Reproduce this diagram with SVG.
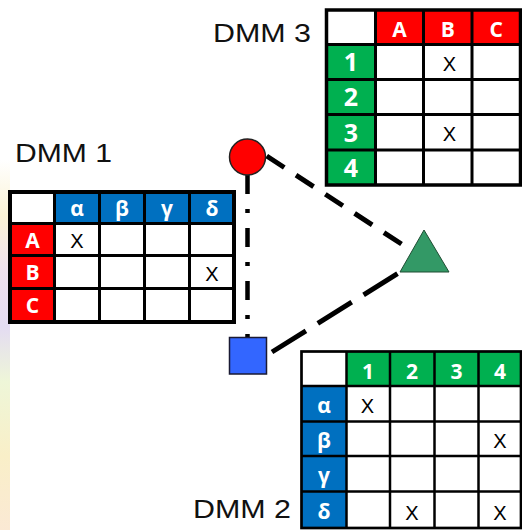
<svg xmlns="http://www.w3.org/2000/svg" width="522" height="530" viewBox="0 0 522 530">
  <defs>
    <linearGradient id="bgstrip" x1="0" y1="0" x2="0" y2="1">
      <stop offset="0" stop-color="#ffffff"/>
      <stop offset="0.15" stop-color="#fbf3d6"/>
      <stop offset="0.3" stop-color="#efe2ee"/>
      <stop offset="0.45" stop-color="#e4dcf2"/>
      <stop offset="0.6" stop-color="#eef6d8"/>
      <stop offset="0.8" stop-color="#f9efc8"/>
      <stop offset="1" stop-color="#fbe9d4"/>
    </linearGradient>
    <style>
      .lbl { font-family: "Liberation Sans", Arial, sans-serif; font-size: 25px; fill: #111; }
      .hd { font-family: "Open Sans", "Noto Sans", sans-serif; font-weight: bold; font-size: 21px; fill: #fff; text-anchor: middle; }
      .hdl { font-family: "Open Sans", "Noto Sans", sans-serif; font-weight: bold; font-size: 25px; fill: #fff; text-anchor: middle; }
      .x { font-family: "Liberation Sans", Arial, sans-serif; font-size: 20px; fill: #000; text-anchor: middle; }
      .red { fill: #ff0000; }
      .blue { fill: #0070c0; }
      .green { fill: #00b050; }
      .grid { stroke: #000; fill: none; }
      .conn { fill: none; stroke: #000; stroke-linecap: butt; }
    </style>
  </defs>
  <rect width="522" height="530" fill="#fff"/>
  <rect x="0" y="160" width="10" height="370" fill="url(#bgstrip)"/>

  <!-- DMM 1 -->
  <g id="dmm1">
    <text class="lbl" x="15" y="162" textLength="97" lengthAdjust="spacingAndGlyphs">DMM 1</text>
    <rect x="10" y="192" width="224" height="130" fill="#fff"/>
    <rect class="blue" x="54.5" y="192" width="179.5" height="31.5"/>
    <rect class="red" x="10" y="223.5" width="44.5" height="98.5"/>
    <g class="grid" stroke-width="3">
      <line x1="54.5" y1="192" x2="54.5" y2="322"/>
      <line x1="99.5" y1="192" x2="99.5" y2="322"/>
      <line x1="144.5" y1="192" x2="144.5" y2="322"/>
      <line x1="189.5" y1="192" x2="189.5" y2="322"/>
      <line x1="10" y1="223.5" x2="234" y2="223.5"/>
      <line x1="10" y1="255.5" x2="234" y2="255.5"/>
      <line x1="10" y1="288.5" x2="234" y2="288.5"/>
    </g>
    <rect class="grid" x="10" y="192" width="224" height="130" stroke-width="4"/>
    <text class="hd" x="77" y="216">α</text>
    <text class="hd" x="122" y="216">β</text>
    <text class="hd" x="167" y="216">γ</text>
    <text class="hd" x="212" y="216">δ</text>
    <text class="hd" x="32.5" y="247.5">A</text>
    <text class="hd" x="32.5" y="280">B</text>
    <text class="hd" x="32.5" y="313">C</text>
    <text class="x" x="77" y="247.5">X</text>
    <text class="x" x="212" y="280.5">X</text>
  </g>

  <!-- DMM 3 -->
  <g id="dmm3">
    <text class="lbl" x="213" y="41.7" textLength="98" lengthAdjust="spacingAndGlyphs">DMM 3</text>
    <rect x="326.5" y="10" width="194" height="175" fill="#fff"/>
    <rect class="red" x="375.5" y="10" width="145" height="34.5"/>
    <rect class="green" x="326.5" y="44.5" width="49" height="140.5"/>
    <g class="grid" stroke-width="3">
      <line x1="375.5" y1="10" x2="375.5" y2="185"/>
      <line x1="423.5" y1="10" x2="423.5" y2="185"/>
      <line x1="472" y1="10" x2="472" y2="185"/>
      <line x1="326.5" y1="44.5" x2="520.5" y2="44.5"/>
      <line x1="326.5" y1="79.5" x2="520.5" y2="79.5"/>
      <line x1="326.5" y1="114.5" x2="520.5" y2="114.5"/>
      <line x1="326.5" y1="150" x2="520.5" y2="150"/>
    </g>
    <rect class="grid" x="326.5" y="10" width="194" height="175" stroke-width="3.5"/>
    <text class="hd" x="399.5" y="36.5">A</text>
    <text class="hd" x="447.8" y="36.5">B</text>
    <text class="hd" x="496.3" y="36.5">C</text>
    <text class="hdl" x="351" y="71">1</text>
    <text class="hdl" x="351" y="106">2</text>
    <text class="hdl" x="351" y="141.5">3</text>
    <text class="hdl" x="351" y="177">4</text>
    <text class="x" x="449.5" y="70.7">X</text>
    <text class="x" x="449.5" y="140.7">X</text>
  </g>

  <!-- DMM 2 -->
  <g id="dmm2">
    <text class="lbl" x="193" y="518" textLength="98" lengthAdjust="spacingAndGlyphs">DMM 2</text>
    <rect x="301.5" y="351.5" width="219.5" height="176.5" fill="#fff"/>
    <rect class="green" x="346.5" y="351.5" width="174.5" height="34.5"/>
    <rect class="blue" x="301.5" y="386" width="45" height="142"/>
    <g class="grid" stroke-width="2.5">
      <line x1="346.5" y1="351.5" x2="346.5" y2="528"/>
      <line x1="390" y1="351.5" x2="390" y2="528"/>
      <line x1="434.5" y1="351.5" x2="434.5" y2="528"/>
      <line x1="478.5" y1="351.5" x2="478.5" y2="528"/>
      <line x1="301.5" y1="386" x2="521" y2="386"/>
      <line x1="301.5" y1="421.5" x2="521" y2="421.5"/>
      <line x1="301.5" y1="456" x2="521" y2="456"/>
      <line x1="301.5" y1="491.5" x2="521" y2="491.5"/>
    </g>
    <rect class="grid" x="301.5" y="351.5" width="219.5" height="176.5" stroke-width="2.7"/>
    <text class="hd" x="368" y="378.5">1</text>
    <text class="hd" x="412" y="378.5">2</text>
    <text class="hd" x="456.5" y="378.5">3</text>
    <text class="hd" x="500" y="378.5">4</text>
    <text class="hd" x="324" y="413">α</text>
    <text class="hd" x="324" y="447.5">β</text>
    <text class="hd" x="324" y="482.5">γ</text>
    <text class="hd" x="324" y="518.5">δ</text>
    <text class="x" x="367.5" y="413.3">X</text>
    <text class="x" x="500" y="447.5">X</text>
    <text class="x" x="412" y="520">X</text>
    <text class="x" x="500" y="520">X</text>
  </g>

  <!-- connectors -->
  <g id="connectors">
    <path class="conn" d="M266.7 156 L403 245" stroke-width="5" stroke-dasharray="21 14"/>
    <path class="conn" d="M247.5 175 L247.5 337.5" stroke-width="4.5" stroke-dasharray="19 15 4 15"/>
    <path class="conn" d="M272 352 L400 272" stroke-width="5" stroke-dasharray="40 14"/>
  </g>

  <!-- nodes -->
  <g id="node-circle">
    <circle cx="247.5" cy="157" r="18" fill="#ff0000" stroke="#222" stroke-width="1.5"/>
  </g>
  <g id="node-square">
    <rect x="229.5" y="337.5" width="37" height="36.5" fill="#3366ff" stroke="#1a1a33" stroke-width="1.5"/>
  </g>
  <g id="node-triangle">
    <polygon points="424,230 400,272 449,272" fill="#339966" stroke="#1f4d33" stroke-width="1"/>
  </g>
</svg>
